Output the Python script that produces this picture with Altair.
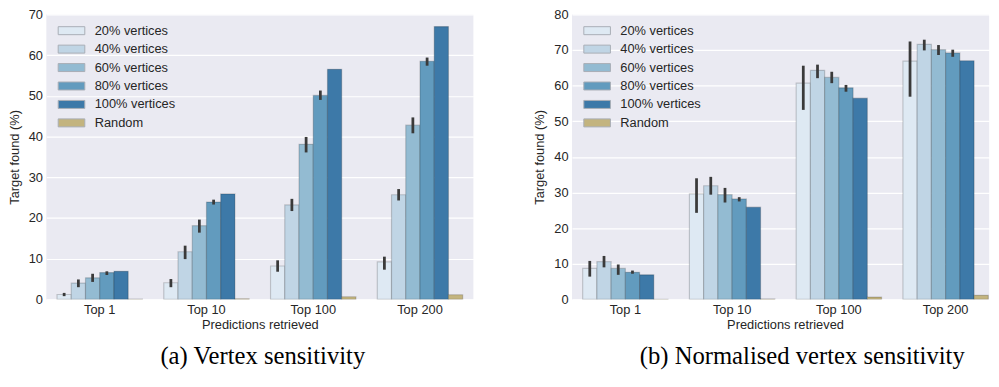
import altair as alt
import pandas as pd

GROUPS = ["Top 1", "Top 10", "Top 100", "Top 200"]
SERIES = ["20% vertices", "40% vertices", "60% vertices", "80% vertices",
          "100% vertices", "Random"]
COLORS = ["#dee9f3", "#c0d5e5", "#93bbd2", "#629bbe", "#3d79a8", "#c3b47f"]

# (a) Vertex sensitivity: mean target found (%) per series, one value per group
A_20 = [1.2, 4.1, 8.2, 9.2]
A_40 = [4.0, 11.7, 23.2, 25.7]
A_60 = [5.3, 18.1, 38.1, 42.8]
A_80 = [6.6, 23.9, 50.1, 58.5]
A_100 = [6.9, 25.9, 56.5, 67.0]
A_RANDOM = [0.05, 0.15, 0.65, 1.15]
# confidence interval bounds (20%..80% vertices)
A_LO = [[0.8, 3.0, 6.8, 7.3], [3.0, 9.9, 21.7, 24.3],
        [4.3, 16.4, 36.1, 40.8], [6.0, 23.3, 49.0, 57.4]]
A_HI = [[1.6, 5.0, 9.6, 10.5], [4.9, 13.2, 24.7, 27.1],
        [6.3, 19.6, 39.9, 44.7], [6.9, 24.5, 51.3, 59.4]]

# (b) Normalised vertex sensitivity
B_20 = [8.7, 29.6, 60.7, 66.9]
B_40 = [10.6, 31.9, 64.3, 71.6]
B_60 = [8.7, 29.4, 62.3, 70.1]
B_80 = [7.6, 28.2, 59.4, 69.2]
B_100 = [6.9, 25.9, 56.5, 67.0]
B_RANDOM = [0.05, 0.15, 0.65, 1.15]
B_LO = [[6.4, 24.3, 53.2, 56.9], [9.0, 29.4, 62.1, 69.9],
        [6.9, 27.2, 60.7, 68.6], [7.2, 27.5, 58.3, 68.1]]
B_HI = [[10.8, 34.0, 65.6, 72.4], [12.2, 34.4, 65.9, 72.9],
        [9.8, 31.3, 63.9, 71.4], [8.1, 28.7, 60.2, 70.1]]


def frames(series_values, lo, hi):
    bars = pd.DataFrame([
        {"group": g, "series": s, "value": v}
        for s, vals in zip(SERIES, series_values)
        for g, v in zip(GROUPS, vals)
    ])
    errs = pd.DataFrame([
        {"group": g, "series": s, "lo": l, "hi": h}
        for s, ls, hs in zip(SERIES, lo, hi)
        for g, l, h in zip(GROUPS, ls, hs)
    ])
    return bars, errs


# wide, flat legend swatch (drawn at 2x the nominal symbol box)
SWATCH = "M-2,-0.6L2,-0.6L2,0.6L-2,0.6Z"


def panel(bars, errs, ymax, caption, width, x_range=None, caption_dx=0,
          title_x=None):
    xscale = dict(paddingInner=0.2, paddingOuter=0.1)
    if x_range is not None:
        xscale["range"] = x_range
    axis_kw = dict(title="Predictions retrieved", labelAngle=0, ticks=False,
                   domain=False, grid=False, labelPadding=4, titlePadding=3)
    if title_x is not None:
        axis_kw["titleX"] = title_x
    x = alt.X("group:N", sort=GROUPS, scale=alt.Scale(**xscale),
              axis=alt.Axis(**axis_kw))
    xoff = alt.XOffset("series:N", sort=SERIES,
                       scale=alt.Scale(paddingInner=0, paddingOuter=0))
    yscale = alt.Scale(domain=[0, ymax], nice=False)
    yaxis = alt.Axis(title="Target found (%)",
                     values=list(range(0, ymax + 1, 10)), labelOverlap=False,
                     ticks=False, domain=False, labelPadding=4,
                     titlePadding=7, gridColor="white", gridWidth=1.2)
    color = alt.Color(
        "series:N", sort=SERIES,
        scale=alt.Scale(domain=SERIES, range=COLORS),
        legend=alt.Legend(orient="none", legendX=18, legendY=9, title=None,
                          symbolType=SWATCH, symbolSize=182,
                          symbolStrokeColor="#a9aeb6", symbolStrokeWidth=1,
                          symbolOpacity=1, labelFontSize=13,
                          labelFont="Liberation Sans", labelColor="#262626",
                          labelOffset=16, rowPadding=3.7))
    bar_layer = alt.Chart(bars).mark_bar(
        stroke="#000000", strokeOpacity=0.18, strokeWidth=1.2, opacity=1,
        clip=True
    ).encode(x=x, xOffset=xoff,
             y=alt.Y("value:Q", scale=yscale, axis=yaxis), color=color)
    err_layer = alt.Chart(errs).mark_rule(
        color="#3a3a3a", strokeWidth=2.8
    ).encode(x=x, xOffset=xoff,
             y=alt.Y("lo:Q", scale=yscale, axis=yaxis), y2="hi:Q")
    return alt.layer(bar_layer, err_layer).properties(
        width=width, height=289,
        title=alt.TitleParams(text=caption, orient="bottom", anchor="middle",
                              font="Liberation Serif", fontSize=25,
                              fontWeight="normal", color="black", offset=13,
                              dx=caption_dx))


a_bars, a_errs = frames([A_20, A_40, A_60, A_80, A_100, A_RANDOM], A_LO, A_HI)
b_bars, b_errs = frames([B_20, B_40, B_60, B_80, B_100, B_RANDOM], B_LO, B_HI)

left = panel(a_bars, a_errs, 70, "(a) Vertex sensitivity", 433, caption_dx=3)
right = panel(b_bars, b_errs, 80, "(b) Normalised vertex sensitivity", 423,
              x_range=[0, 433], caption_dx=22, title_x=216)

chart = alt.hconcat(left, right, spacing=61).resolve_scale(
    color="independent", x="independent", y="independent", xOffset="independent"
).resolve_legend(color="independent").properties(
    padding={"left": 8, "top": 6, "right": 0, "bottom": 0},
    background="white",
).configure_axis(
    labelFont="Liberation Sans", titleFont="Liberation Sans",
    labelFontSize=13, titleFontSize=13, labelColor="#262626",
    titleColor="#262626", titleFontWeight="normal",
).configure_view(fill="#eaeaf2", strokeWidth=0)

chart.save("out.html", embed_options={"renderer": "svg", "actions": False})
